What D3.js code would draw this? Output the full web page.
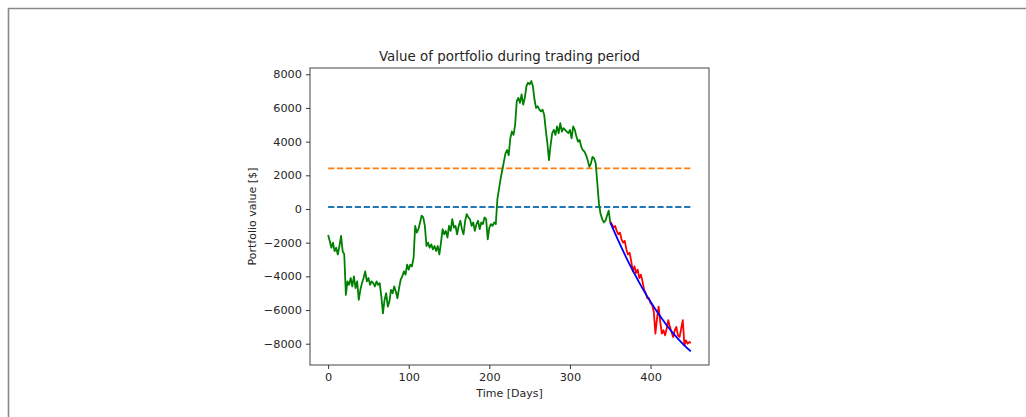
<!DOCTYPE html>
<html>
<head>
<meta charset="utf-8">
<script src="https://cdn.jsdelivr.net/npm/d3@7/dist/d3.min.js"></script>
<style>
  html, body { margin: 0; padding: 0; background: #fff; }
  svg { display: block; }
  text { font-family: "DejaVu Sans", sans-serif; fill: #262626; }
</style>
</head>
<body>
<script>
// Portfolio value over the trading period (days, dollars)
const trainDays = [0,2,4,6,8,10,12,14,16,18,20,22,24,26,28,30,32,34,36,38,40,42,44,46,48,50,52,54,56,58,60,62,64,66,68,70,72,74,76,78,80,82,84,86,88,90,92,94,96,98,100,102,104,106,108,110,112,114,116,118,120,122,124,126,128,130,132,134,136,138,140,142,144,146,148,150,152,154,156,158,160,162,164,166,168,170,172,174,176,178,180,182,184,186,188,190,192,194,196,198,200,202,204,206,208,210,212,214,216,218,220,222,224,226,228,230,232,234,236,238,240,242,244,246,248,250,252,254,256,258,260,262,264,266,268,270,272,274,276,278,280,282,284,286,288,290,292,294,296,298,300,302,304,306,308,310,312,314,316,318,320,322,324,326,328,330,332,334,336,338,340,342,344,346,348,350];
const trainValues = [-1550,-1900,-2300,-2000,-2500,-2300,-2700,-2200,-1600,-2500,-2700,-5100,-4300,-4500,-4100,-4600,-4000,-4700,-4300,-5400,-4800,-4400,-4100,-3700,-4300,-4100,-4500,-4300,-4400,-4600,-4300,-4500,-4400,-5200,-6200,-5400,-5000,-5800,-5500,-4800,-5000,-4600,-4900,-5300,-4700,-4200,-4000,-3700,-3900,-3300,-3600,-3300,-3400,-2900,-1000,-1400,-1200,-800,-400,-500,-1000,-2200,-2000,-2300,-2100,-2400,-2200,-2500,-2200,-2700,-2000,-1200,-1500,-1300,-1700,-1000,-1300,-600,-1100,-1000,-1500,-1000,-700,-1200,-1500,-700,-300,-500,-600,-1000,-800,-1300,-900,-700,-1200,-800,-900,-500,-600,-1800,-1100,-900,-1000,-800,-900,600,1200,1800,2300,2800,3300,3500,3200,4200,4600,4400,5000,6400,6600,6300,6800,6200,6600,7300,7500,7400,7600,7300,6500,6000,6100,5900,5800,5900,5600,4700,3900,2900,3800,4500,4700,4400,4900,4500,5100,4600,4800,4700,4600,4500,4700,4200,4900,4700,4300,4000,4100,3700,3500,3400,3200,2900,2500,2700,3100,3000,2700,1500,300,-300,-600,-800,-700,-400,-100,-800];

const testDays = [350,352,354,356,358,360,362,364,366,368,370,372,374,376,378,380,382,384,386,388,390,392,394,396,398,400,402,404,406,408,410,412,414,416,418,420,422,424,426,428,430,432,434,436,438,440,442,444,446,448,450];
const testValues = [-750,-900,-1100,-1000,-1300,-1500,-1400,-1800,-2000,-1900,-2400,-2700,-2600,-3100,-3700,-3400,-3800,-3600,-4100,-3900,-4300,-4800,-5000,-5300,-5300,-5600,-5700,-6100,-7400,-6500,-5800,-6700,-7400,-7200,-7500,-7100,-6600,-7000,-7300,-7600,-7200,-7000,-7500,-7600,-7100,-6600,-8100,-7800,-8000,-7900,-7950];

// Fitted trend over the test period
const trendDays = [350,360,370,380,390,400,410,420,430,440,450];
const trendValues = [-800,-1885,-2898,-3840,-4712,-5512,-6242,-6900,-7488,-8005,-8460];

// Reference levels (dashed), spanning the whole period
const levelNames = ["zero", "upper"];
const levelValues = [120, 2417];
const levelSpan = [0, 450];

const xTicks = [0, 100, 200, 300, 400];
const yTicks = [-8000, -6000, -4000, -2000, 0, 2000, 4000, 6000, 8000];

const titleText = "Value of portfolio during trading period";
const xLabelText = "Time [Days]";
const yLabelText = "Portfolio value [$]";

const W = 1026, H = 417;
const plot = { left: 310, right: 709, top: 68, bottom: 365 };

const svg = d3.select("body").append("svg")
  .attr("width", W).attr("height", H);

// page frame (top and left edges)
svg.append("line").attr("x1", 8).attr("x2", W).attr("y1", 8.5).attr("y2", 8.5)
  .attr("stroke", "#8a8a8a").attr("stroke-width", 1.6);
svg.append("line").attr("x1", 8.5).attr("x2", 8.5).attr("y1", 8).attr("y2", H)
  .attr("stroke", "#8a8a8a").attr("stroke-width", 1.6);

const x = d3.scaleLinear().domain([-22.5, 472.5]).range([plot.left, plot.right]);
const y = d3.scaleLinear().domain([-9264, 8373]).range([plot.bottom, plot.top]);

const fmt = v => (v < 0 ? "\u2212" + Math.abs(v) : String(v));

const g = svg.append("g");

// axes
const xAxis = d3.axisBottom(x).tickValues(xTicks).tickFormat(fmt).tickSize(4).tickPadding(4);
const yAxis = d3.axisLeft(y).tickValues(yTicks).tickFormat(fmt).tickSize(4).tickPadding(4);

const gx = g.append("g").attr("transform", `translate(0,${plot.bottom})`).call(xAxis);
const gy = g.append("g").attr("transform", `translate(${plot.left},0)`).call(yAxis);
[gx, gy].forEach(a => {
  a.select(".domain").remove();
  a.selectAll(".tick line").attr("stroke", "#333").attr("stroke-width", 1);
  a.selectAll(".tick text").style("font-family", "DejaVu Sans").style("font-size", "11.3px").attr("fill", "#262626");
});

// clip for data
svg.append("clipPath").attr("id", "plotclip").append("rect")
  .attr("x", plot.left).attr("y", plot.top)
  .attr("width", plot.right - plot.left).attr("height", plot.bottom - plot.top);

const data = g.append("g").attr("clip-path", "url(#plotclip)");

const line = d3.line().x(d => x(d[0])).y(d => y(d[1]));

const levelColors = { zero: "#1f77b4", upper: "#ff7f0e" };
levelNames.forEach((n, i) => {
  data.append("path")
    .attr("d", line(levelSpan.map(d => [d, levelValues[i]])))
    .attr("fill", "none").attr("stroke", levelColors[n])
    .attr("stroke-width", 1.8).attr("stroke-dasharray", "6.2,2.7");
});

data.append("path")
  .attr("d", line(trainDays.map((d, i) => [d, trainValues[i]])))
  .attr("fill", "none").attr("stroke", "#008000").attr("stroke-width", 1.8)
  .attr("stroke-linejoin", "round");

data.append("path")
  .attr("d", line(testDays.map((d, i) => [d, testValues[i]])))
  .attr("fill", "none").attr("stroke", "#ff0000").attr("stroke-width", 1.8)
  .attr("stroke-linejoin", "round");

data.append("path")
  .attr("d", d3.line().curve(d3.curveMonotoneX).x(d => x(d[0])).y(d => y(d[1]))(trendDays.map((d, i) => [d, trendValues[i]])))
  .attr("fill", "none").attr("stroke", "#0000ff").attr("stroke-width", 1.8);

// axes frame
g.append("rect")
  .attr("x", plot.left).attr("y", plot.top)
  .attr("width", plot.right - plot.left).attr("height", plot.bottom - plot.top)
  .attr("fill", "none").attr("stroke", "#444").attr("stroke-width", 1);

// title and labels
svg.append("text").attr("x", (plot.left + plot.right) / 2).attr("y", 61)
  .attr("text-anchor", "middle").style("font-size", "13.4px").text(titleText);
svg.append("text").attr("x", (plot.left + plot.right) / 2).attr("y", 397)
  .attr("text-anchor", "middle").style("font-size", "11px").text(xLabelText);
svg.append("text")
  .attr("transform", `translate(256,${(plot.top + plot.bottom) / 2}) rotate(-90)`)
  .attr("text-anchor", "middle").style("font-size", "11px").text(yLabelText);
</script>
</body>
</html>
